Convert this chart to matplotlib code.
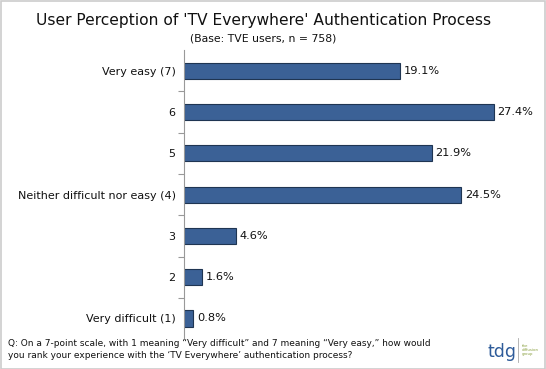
import matplotlib
matplotlib.use("Agg")
import matplotlib.pyplot as plt
from matplotlib.patches import Rectangle

# dados do grafico
categorias = ['Very easy (7)', '6', '5', 'Neither difficult nor easy (4)', '3', '2', 'Very difficult (1)']
valores = [19.1, 27.4, 21.9, 24.5, 4.6, 1.6, 0.8]
rotulos = ['19.1%', '27.4%', '21.9%', '24.5%', '4.6%', '1.6%', '0.8%']

titulo = "User Perception of 'TV Everywhere' Authentication Process"
subtitulo = "(Base: TVE users, n = 758)"
pergunta = ("Q: On a 7-point scale, with 1 meaning \u201cVery difficult\u201d and 7 meaning \u201cVery easy,\u201d how would\n"
            "you rank your experience with the \u2018TV Everywhere\u2019 authentication process?")

fig = plt.figure(figsize=(5.46, 3.69), dpi=100)
ax = fig.add_axes([0.337, 0.081, 0.621, 0.783])

pos = list(range(len(categorias)))
ax.barh(pos, valores, height=0.39, color='#3B6196', edgecolor='#1F3552', linewidth=0.8)

for p, v, r in zip(pos, valores, rotulos):
    ax.text(v + 0.35, p, r, va='center', ha='left', fontsize=8.2, color='#111111')

ax.set_ylim(6.5, -0.5)
ax.set_xlim(0, 30)
ax.set_yticks(pos)
ax.set_yticklabels(categorias, fontsize=8, color='#111111')
ax.set_yticks([p + 0.5 for p in pos[:-1]], minor=True)
ax.tick_params(axis='y', which='major', length=0, pad=6)
ax.tick_params(axis='y', which='minor', length=4, color='#999999', width=0.8)
ax.set_xticks([])
for lado in ['top', 'right', 'bottom']:
    ax.spines[lado].set_visible(False)
ax.spines['left'].set_color('#999999')
ax.spines['left'].set_linewidth(0.8)

# titulos
fig.text(0.482, 0.945, titulo, ha='center', va='center', fontsize=11.2, color='#111111')
fig.text(0.482, 0.897, subtitulo, ha='center', va='center', fontsize=7.8, color='#111111')

# pergunta no rodape
fig.text(0.015, 0.052, pergunta, ha='left', va='center', fontsize=6.45, color='#111111', linespacing=1.45)

# logo tdg
fig.text(0.919, 0.047, 'tdg', ha='center', va='center', fontsize=12.5, color='#2F5C9A')
fig.add_artist(plt.Line2D([0.948, 0.948], [0.02, 0.085], color='#AAAAAA', linewidth=0.6))
fig.text(0.955, 0.052, 'the\ndiffusion\ngroup', ha='left', va='center', fontsize=2.8, color='#8AA040', linespacing=1.1)

# borda
fig.add_artist(Rectangle((0.001, 0.001), 0.997, 0.996, transform=fig.transFigure,
                         fill=False, edgecolor='#CCCCCC', linewidth=1.2))

fig.savefig('out.png', dpi=100)
